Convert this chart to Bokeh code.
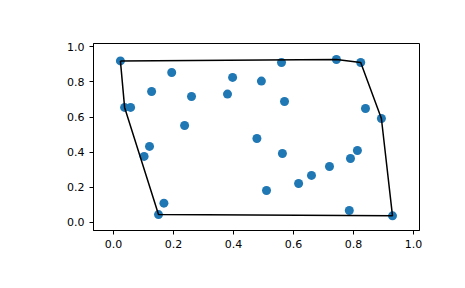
from bokeh.plotting import figure
from bokeh.models import FixedTicker, Range1d
from bokeh.embed import file_html
from bokeh.resources import INLINE

# scatter points
xs = [0.023, 0.194, 0.127, 0.037, 0.057, 0.260, 0.397, 0.380, 0.237, 0.120,
      0.102, 0.168, 0.150, 0.478, 0.493, 0.560, 0.743, 0.824, 0.570, 0.840,
      0.893, 0.563, 0.813, 0.790, 0.720, 0.660, 0.617, 0.510, 0.786, 0.930]
ys = [0.920, 0.854, 0.746, 0.655, 0.655, 0.717, 0.826, 0.731, 0.552, 0.433,
      0.376, 0.110, 0.045, 0.478, 0.805, 0.911, 0.928, 0.911, 0.689, 0.649,
      0.592, 0.393, 0.410, 0.364, 0.319, 0.268, 0.222, 0.182, 0.068, 0.038]

tick_values = [0.0, 0.2, 0.4, 0.6, 0.8, 1.0]
tick_labels = ["0.0", "0.2", "0.4", "0.6", "0.8", "1.0"]


def convex_hull(px, py):
    pts = sorted(set(zip(px, py)))

    def cross(o, a, b):
        return (a[0] - o[0]) * (b[1] - o[1]) - (a[1] - o[1]) * (b[0] - o[0])

    lower, upper = [], []
    for p in pts:
        while len(lower) >= 2 and cross(lower[-2], lower[-1], p) <= 0:
            lower.pop()
        lower.append(p)
    for p in reversed(pts):
        while len(upper) >= 2 and cross(upper[-2], upper[-1], p) <= 0:
            upper.pop()
        upper.append(p)
    return lower[:-1] + upper[:-1]


hull = convex_hull(xs, ys)
hx = [p[0] for p in hull] + [hull[0][0]]
hy = [p[1] for p in hull] + [hull[0][1]]

p = figure(width=465, height=288, output_backend="svg", toolbar_location=None,
           x_range=Range1d(-0.0667, 1.02), y_range=Range1d(-0.0456, 1.019),
           min_border_left=93, min_border_right=46, min_border_top=43,
           min_border_bottom=58)
p.background_fill_color = "white"
p.border_fill_color = "white"
p.outline_line_color = "black"
p.outline_line_width = 1
p.grid.visible = False

for ax in (p.xaxis[0], p.yaxis[0]):
    ax.ticker = FixedTicker(ticks=tick_values)
    ax.major_label_overrides = {v: l for v, l in zip(tick_values, tick_labels)}
    ax.minor_tick_line_color = None
    ax.major_tick_in = 0
    ax.major_tick_out = 4
    ax.major_tick_line_color = "black"
    ax.axis_line_color = "black"
    ax.major_label_text_font = "DejaVu Sans"
    ax.major_label_text_font_size = "11px"
    ax.major_label_text_color = "black"
    ax.major_label_standoff = 5

p.scatter(xs, ys, size=9, color="#1f77b4", line_color=None)
p.line(hx, hy, line_color="black", line_width=1.5)

open("out.html", "w").write(file_html(p, INLINE))
